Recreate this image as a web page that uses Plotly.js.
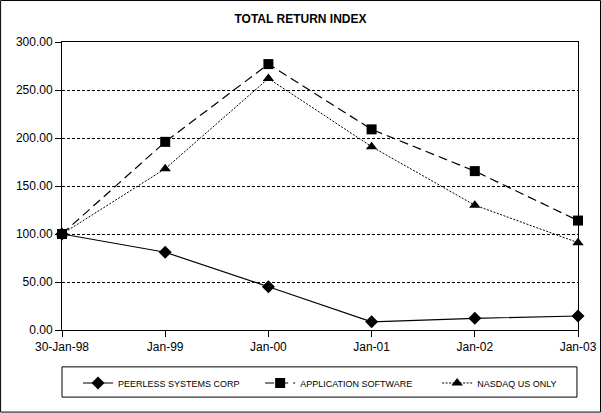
<!DOCTYPE html>
<html><head><meta charset="utf-8">
<script src="https://cdn.plot.ly/plotly-3.0.1.min.js"></script>
<style>html,body{margin:0;padding:0;background:#fff}#chart{width:601px;height:413px}</style>
</head><body><div id="chart"></div>
<script>
const dates = ["30-Jan-98","Jan-99","Jan-00","Jan-01","Jan-02","Jan-03"];
const peerless = [100, 81, 45, 8.5, 12.2, 14.6];
const appSoftware = [100, 196, 277, 209, 165.5, 114];
const nasdaq = [100, 168, 262, 191, 130, 91];
const seriesNames = ["PEERLESS SYSTEMS CORP","APPLICATION SOFTWARE","NASDAQ US ONLY"];

const idx = dates.map((d,i)=>i);
const traces = [
  {x: idx, y: peerless, name: seriesNames[0], mode:'lines+markers', legend:'legend',
   line:{color:'#000',width:1.2,dash:'solid'}, marker:{symbol:'diamond',size:10,color:'#000'}, cliponaxis:false},
  {x: idx, y: appSoftware, name: seriesNames[1], mode:'lines+markers', legend:'legend2',
   line:{color:'#000',width:1.2,dash:'9px,5px'}, marker:{symbol:'square',size:10,color:'#000'}, cliponaxis:false},
  {x: idx, y: nasdaq, name: seriesNames[2], mode:'lines+markers', legend:'legend3',
   line:{color:'#000',width:1,dash:'2px,1.5px'}, marker:{symbol:'triangle-up',size:10,color:'#000'}, cliponaxis:false}
];
const legBase = {y:-0.184, yanchor:'middle', xanchor:'left', font:{size:9}, bgcolor:'rgba(0,0,0,0)', borderwidth:0, itemwidth:30};
const layout = {
  width:601, height:413,
  margin:{l:62, r:23, t:42, b:83, autoexpand:false},
  paper_bgcolor:'#fff', plot_bgcolor:'#fff',
  font:{family:'"Liberation Sans", Arial, sans-serif', color:'#000', size:12},
  title:{text:'<b>TOTAL RETURN INDEX</b>', font:{size:12}, x:0.5, xanchor:'center', y:0.955, yanchor:'middle'},
  xaxis:{range:[0,5], tickvals:idx, ticktext:dates, showgrid:false, zeroline:false,
    showline:true, linecolor:'#000', linewidth:1, mirror:true,
    ticks:'outside', ticklen:6, tickcolor:'#000', tickfont:{size:12}},
  yaxis:{range:[0,300], dtick:50, tickformat:'.2f', showgrid:true, gridcolor:'#000', gridwidth:1,
    griddash:'3px,2px', zeroline:false, showline:true, linecolor:'#000', linewidth:1, mirror:true,
    ticks:'outside', ticklen:6, tickcolor:'#000', tickfont:{size:12}},
  showlegend:true,
  legend: Object.assign({}, legBase, {x:0.031}),
  legend2: Object.assign({}, legBase, {x:0.384}),
  legend3: Object.assign({}, legBase, {x:0.727}),
  shapes:[
    {type:'rect', xref:'paper', yref:'paper', x0:-0.119, x1:1.0436, y0:-0.285, y1:1.144, line:{color:'#000',width:1}},
    {type:'rect', xref:'paper', yref:'paper', x0:0, x1:0.998, y0:-0.233, y1:-0.128, line:{color:'#000',width:1}}
  ]
};
Plotly.newPlot('chart', traces, layout, {displayModeBar:false, staticPlot:true});
</script></body></html>
